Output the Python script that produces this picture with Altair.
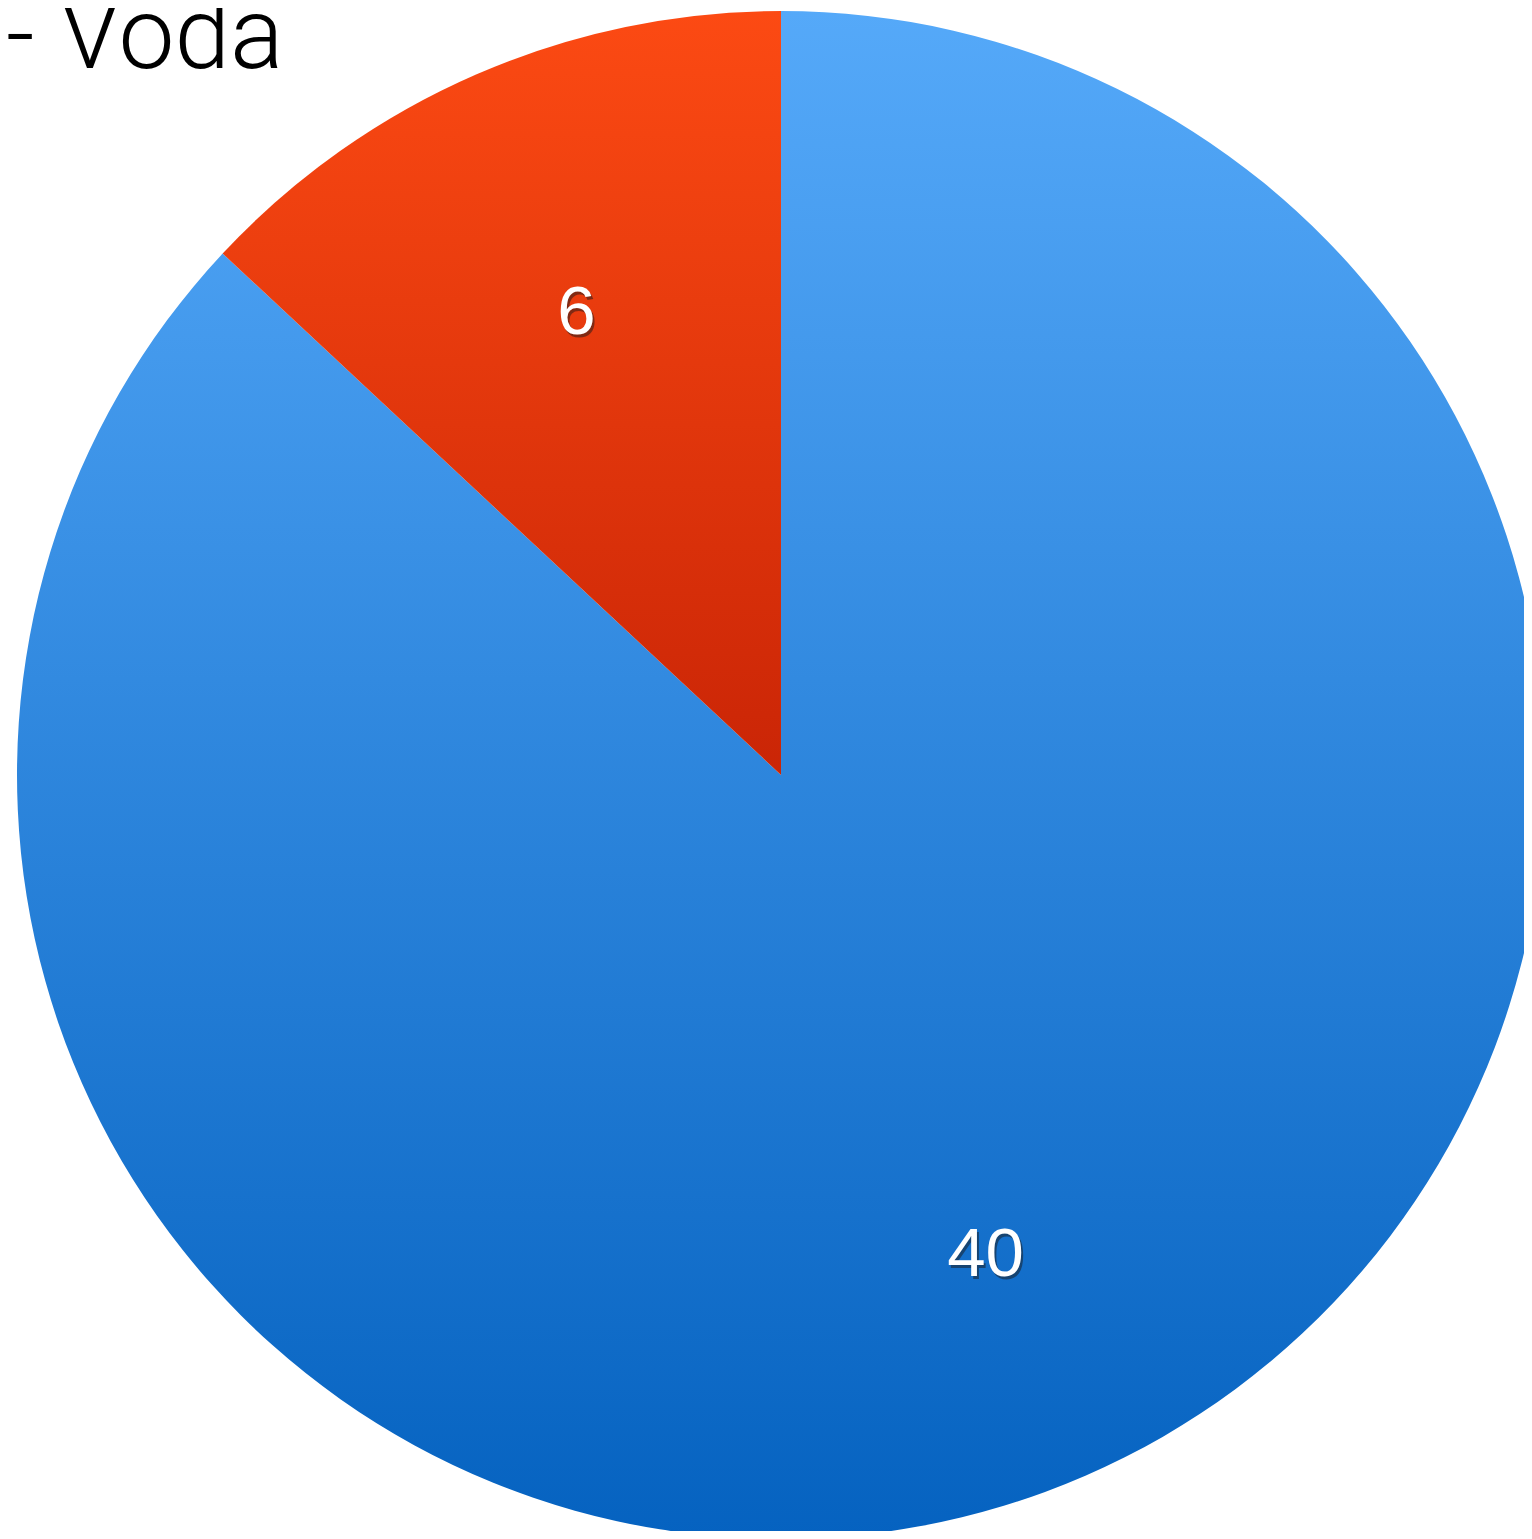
import altair as alt
import pandas as pd

categories = ["A", "B"]
values = [40, 6]
labels = ["40", "6"]
title_text = "- Voda"

df = pd.DataFrame({"cat": categories, "value": values, "label": labels, "order": [0, 1]})

CX, CY, R = 773, 767, 764

blue_grad = alt.Gradient(gradient="linear", x1=0, y1=0, x2=0, y2=1,
                         stops=[alt.GradientStop(color="#55A9F9", offset=0),
                                alt.GradientStop(color="#0562C0", offset=1)])
red_grad = alt.Gradient(gradient="linear", x1=0, y1=0, x2=0, y2=1,
                        stops=[alt.GradientStop(color="#FC4A13", offset=0),
                               alt.GradientStop(color="#CA2506", offset=1)])

base = alt.Chart(df).encode(
    theta=alt.Theta("value:Q", stack=True),
    order=alt.Order("order:Q"),
)

pie = base.mark_arc(outerRadius=R, stroke=None).encode(
    x=alt.value(CX), y=alt.value(CY),
    fill=alt.condition(alt.datum.cat == "B", alt.value(red_grad), alt.value(blue_grad)),
)

LFONT = "Liberation Sans"
shadow = base.mark_text(radius=R * 0.672, fontSize=69, font=LFONT,
                        color="#1a1a1a", opacity=0.5, dx=2, dy=12, baseline="middle").encode(
    x=alt.value(CX), y=alt.value(CY), text="label:N")
txt = base.mark_text(radius=R * 0.672, fontSize=69, font=LFONT,
                     color="white", dy=9, baseline="middle").encode(
    x=alt.value(CX), y=alt.value(CY), text="label:N")

title = alt.Chart(pd.DataFrame({"t": [title_text]})).mark_text(
    fontSize=100, font="Roboto", fontWeight=300, color="black",
    align="left", baseline="alphabetic").encode(
    x=alt.value(-2), y=alt.value(60), text="t:N")

chart = alt.layer(pie, shadow, txt, title).properties(
    width=1516, height=1523, padding=0, autosize=alt.AutoSizeParams(type="none")
).configure_view(stroke=None)

chart.save("out.html", embed_options={"renderer": "svg", "actions": False})
